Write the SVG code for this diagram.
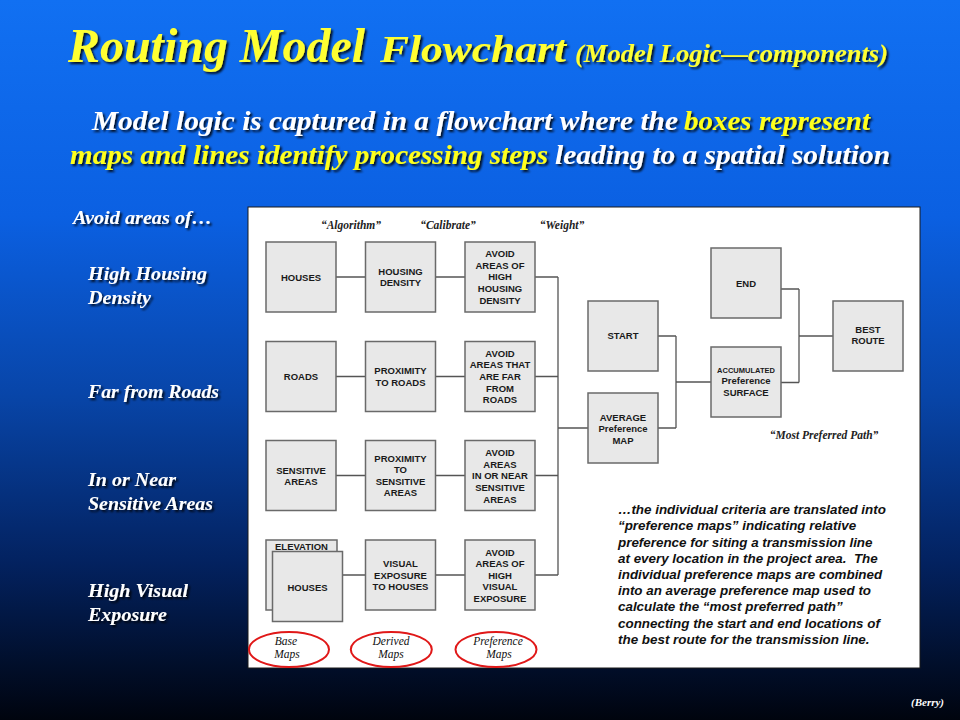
<svg xmlns="http://www.w3.org/2000/svg" width="960" height="720" viewBox="0 0 960 720">
<defs>
  <linearGradient id="bg" x1="0" y1="0" x2="0" y2="1">
    <stop offset="0" stop-color="#1170f2"/>
    <stop offset="0.3" stop-color="#0b60e2"/>
    <stop offset="0.55" stop-color="#0845a8"/>
    <stop offset="0.78" stop-color="#032260"/>
    <stop offset="1" stop-color="#00040e"/>
  </linearGradient>
  <filter id="sh" x="-5%" y="-20%" width="110%" height="150%">
    <feDropShadow dx="2" dy="2" stdDeviation="0.8" flood-color="#000" flood-opacity="0.85"/>
  </filter>
  <style>
    .title{font-family:"Liberation Serif",serif;font-weight:bold;font-style:italic;fill:#ffff33}
    .sub{font-family:"Liberation Serif",serif;font-weight:bold;font-style:italic;font-size:28px}
    .w{fill:#ffffff}
    .y{fill:#ffff1a}
    .side{font-family:"Liberation Serif",serif;font-weight:bold;font-style:italic;font-size:18px;fill:#ffffff}
    .box{fill:#e8e8e8;stroke:#6a6a6a;stroke-width:1.5}
    .bt{font-family:"Liberation Sans",Arial,sans-serif;font-weight:bold;font-size:9.5px;fill:#1a1a1a;text-anchor:middle}
    .sm{font-size:7.5px}
    .hdr{font-family:"Liberation Serif",serif;font-weight:bold;font-style:italic;font-size:11.5px;fill:#222;text-anchor:middle}
    .conn{stroke:#555;stroke-width:1.3;fill:none}
    .ell{fill:none;stroke:#e01818;stroke-width:2}
    .et{font-family:"Liberation Serif",serif;font-style:italic;font-size:11.5px;fill:#111;text-anchor:middle}
    .note{font-family:"Liberation Sans",Arial,sans-serif;font-weight:bold;font-style:italic;font-size:13.4px;fill:#111}
  </style>
</defs>
<rect x="0" y="0" width="960" height="720" fill="url(#bg)"/>

<g id="title" filter="url(#sh)">
  <text class="title" x="68" y="62" font-size="48" textLength="297" lengthAdjust="spacingAndGlyphs">Routing Model</text>
  <text class="title" x="380" y="62" font-size="38" textLength="186" lengthAdjust="spacingAndGlyphs">Flowchart</text>
  <text class="title" x="575" y="62" font-size="25" textLength="313" lengthAdjust="spacingAndGlyphs">(Model Logic—components)</text>
</g>
<g id="subtitle" filter="url(#sh)">
  <text class="sub w" x="92" y="130" textLength="586" lengthAdjust="spacingAndGlyphs">Model logic is captured in a flowchart where the</text>
  <text class="sub y" x="684" y="130" textLength="186" lengthAdjust="spacingAndGlyphs">boxes represent</text>
  <text class="sub y" x="70" y="164" textLength="478" lengthAdjust="spacingAndGlyphs">maps and lines identify processing steps</text>
  <text class="sub w" x="555" y="164" textLength="335" lengthAdjust="spacingAndGlyphs">leading to a spatial solution</text>
</g>
<g id="side-labels" filter="url(#sh)">
  <text class="side" x="73" y="224" font-size="16.5" textLength="139" lengthAdjust="spacingAndGlyphs">Avoid areas of…</text>
  <text class="side" x="88" y="280" textLength="119" lengthAdjust="spacingAndGlyphs">High Housing</text>
  <text class="side" x="88" y="304" textLength="63" lengthAdjust="spacingAndGlyphs">Density</text>
  <text class="side" x="88" y="398" textLength="131" lengthAdjust="spacingAndGlyphs">Far from Roads</text>
  <text class="side" x="88" y="486" textLength="88" lengthAdjust="spacingAndGlyphs">In or Near</text>
  <text class="side" x="88" y="510" textLength="125" lengthAdjust="spacingAndGlyphs">Sensitive Areas</text>
  <text class="side" x="88" y="597" textLength="100" lengthAdjust="spacingAndGlyphs">High Visual</text>
  <text class="side" x="88" y="621" textLength="79" lengthAdjust="spacingAndGlyphs">Exposure</text>
</g>

<rect id="panel" x="248" y="207" width="672" height="461" fill="#ffffff" stroke="#1a1a1a" stroke-width="1"/>

<g id="headers">
  <text class="hdr" x="351" y="229">“Algorithm”</text>
  <text class="hdr" x="448" y="229">“Calibrate”</text>
  <text class="hdr" x="562" y="229">“Weight”</text>
  <text class="hdr" x="824" y="439" font-size="12.5">“Most Preferred Path”</text>
</g>

<g id="connectors">
  <path class="conn" d="M336 277H365.5M435.5 277H465M535 277H558"/>
  <path class="conn" d="M336 376.5H365.5M435.5 376.5H465M535 376.5H558"/>
  <path class="conn" d="M336 475.5H365.5M435.5 475.5H465M535 475.5H558"/>
  <path class="conn" d="M342.5 575H365.5M435.5 575H465M535 575H558"/>
  <path class="conn" d="M558 277V575M558 428H588"/>
  <path class="conn" d="M658 336H676M658 428H676M676 336V428M676 382H711"/>
  <path class="conn" d="M781 289H799M781 382.5H799M799 289V382.5M799 336H833"/>
</g>

<g id="houses"><rect class="box" x="266" y="242" width="70" height="70"/><text class="bt" x="301" y="280.5">HOUSES</text></g>
<g id="housing-density"><rect class="box" x="365.5" y="242" width="70" height="70"/><text class="bt" x="400.5" y="274.7">HOUSING</text><text class="bt" x="400.5" y="286.4">DENSITY</text></g>
<g id="avoid-housing"><rect class="box" x="465" y="242" width="70" height="70"/>
  <text class="bt" x="500" y="257">AVOID</text><text class="bt" x="500" y="268.7">AREAS OF</text><text class="bt" x="500" y="280.4">HIGH</text><text class="bt" x="500" y="292.1">HOUSING</text><text class="bt" x="500" y="303.8">DENSITY</text></g>

<g id="roads"><rect class="box" x="266" y="341.5" width="70" height="70"/><text class="bt" x="301" y="380">ROADS</text></g>
<g id="proximity-roads"><rect class="box" x="365.5" y="341.5" width="70" height="70"/><text class="bt" x="400.5" y="374.1">PROXIMITY</text><text class="bt" x="400.5" y="385.8">TO ROADS</text></g>
<g id="avoid-roads"><rect class="box" x="465" y="341.5" width="70" height="70"/>
  <text class="bt" x="500" y="356.5">AVOID</text><text class="bt" x="500" y="368.2">AREAS THAT</text><text class="bt" x="500" y="379.9">ARE FAR</text><text class="bt" x="500" y="391.6">FROM</text><text class="bt" x="500" y="403.3">ROADS</text></g>

<g id="sensitive-areas"><rect class="box" x="266" y="440.5" width="70" height="70"/><text class="bt" x="301" y="473.7">SENSITIVE</text><text class="bt" x="301" y="484.6">AREAS</text></g>
<g id="proximity-sensitive"><rect class="box" x="365.5" y="440.5" width="70" height="70"/>
  <text class="bt" x="400.5" y="462">PROXIMITY</text><text class="bt" x="400.5" y="473.2">TO</text><text class="bt" x="400.5" y="484.6">SENSITIVE</text><text class="bt" x="400.5" y="496">AREAS</text></g>
<g id="avoid-sensitive"><rect class="box" x="465" y="440.5" width="70" height="70"/>
  <text class="bt" x="500" y="456.4">AVOID</text><text class="bt" x="500" y="467.8">AREAS</text><text class="bt" x="500" y="479.4">IN OR NEAR</text><text class="bt" x="500" y="491.1">SENSITIVE</text><text class="bt" x="500" y="502.7">AREAS</text></g>

<g id="elevation-houses"><rect class="box" x="266" y="540" width="71" height="70"/><text class="bt" x="301.5" y="549.5">ELEVATION</text>
  <rect class="box" x="272.5" y="551.5" width="70" height="70"/><text class="bt" x="307.5" y="590.5">HOUSES</text></g>
<g id="visual-exposure"><rect class="box" x="365.5" y="540" width="70" height="70"/>
  <text class="bt" x="400.5" y="567">VISUAL</text><text class="bt" x="400.5" y="578.7">EXPOSURE</text><text class="bt" x="400.5" y="590.4">TO HOUSES</text></g>
<g id="avoid-visual"><rect class="box" x="465" y="540" width="70" height="70"/>
  <text class="bt" x="500" y="556">AVOID</text><text class="bt" x="500" y="567">AREAS OF</text><text class="bt" x="500" y="578.7">HIGH</text><text class="bt" x="500" y="590.4">VISUAL</text><text class="bt" x="500" y="602">EXPOSURE</text></g>

<g id="start"><rect class="box" x="588" y="301" width="70" height="70"/><text class="bt" x="623" y="339.4">START</text></g>
<g id="average"><rect class="box" x="588" y="393" width="70" height="70"/>
  <text class="bt" x="623" y="420.7">AVERAGE</text><text class="bt" x="623" y="432.4">Preference</text><text class="bt" x="623" y="444.1">MAP</text></g>
<g id="end"><rect class="box" x="711" y="248" width="70" height="70"/><text class="bt" x="746" y="286.7">END</text></g>
<g id="accumulated"><rect class="box" x="711" y="347" width="70" height="70"/>
  <text class="bt sm" x="746" y="372.7">ACCUMULATED</text><text class="bt" x="746" y="384.4">Preference</text><text class="bt" x="746" y="396.1">SURFACE</text></g>
<g id="best-route"><rect class="box" x="833" y="301" width="70" height="70"/>
  <text class="bt" x="868" y="332.7">BEST</text><text class="bt" x="868" y="344.4">ROUTE</text></g>

<g id="note">
  <text class="note" x="618" y="514">…the individual criteria are translated into</text>
  <text class="note" x="618" y="530.3">“preference maps” indicating relative</text>
  <text class="note" x="618" y="546.5">preference for siting a transmission line</text>
  <text class="note" x="618" y="562.7">at every location in the project area.&#160; The</text>
  <text class="note" x="618" y="579">individual preference maps are combined</text>
  <text class="note" x="618" y="595.2">into an average preference map used to</text>
  <text class="note" x="618" y="611.4">calculate the “most preferred path”</text>
  <text class="note" x="618" y="627.6">connecting the start and end locations of</text>
  <text class="note" x="618" y="643.8">the best route for the transmission line.</text>
</g>

<g id="legend">
  <ellipse class="ell" cx="289" cy="649.5" rx="40" ry="17.5"/>
  <text class="et" x="286" y="644.5">Base</text><text class="et" x="287" y="658">Maps</text>
  <ellipse class="ell" cx="391.3" cy="649.5" rx="40.5" ry="17.5"/>
  <text class="et" x="391" y="644.5">Derived</text><text class="et" x="391" y="658">Maps</text>
  <ellipse class="ell" cx="496" cy="649.5" rx="40.5" ry="17.5"/>
  <text class="et" x="498" y="644.5">Preference</text><text class="et" x="499" y="658">Maps</text>
</g>

<text id="credit" x="911" y="706" font-family="Liberation Serif, serif" font-weight="bold" font-style="italic" font-size="11" fill="#ffffff">(Berry)</text>
</svg>
